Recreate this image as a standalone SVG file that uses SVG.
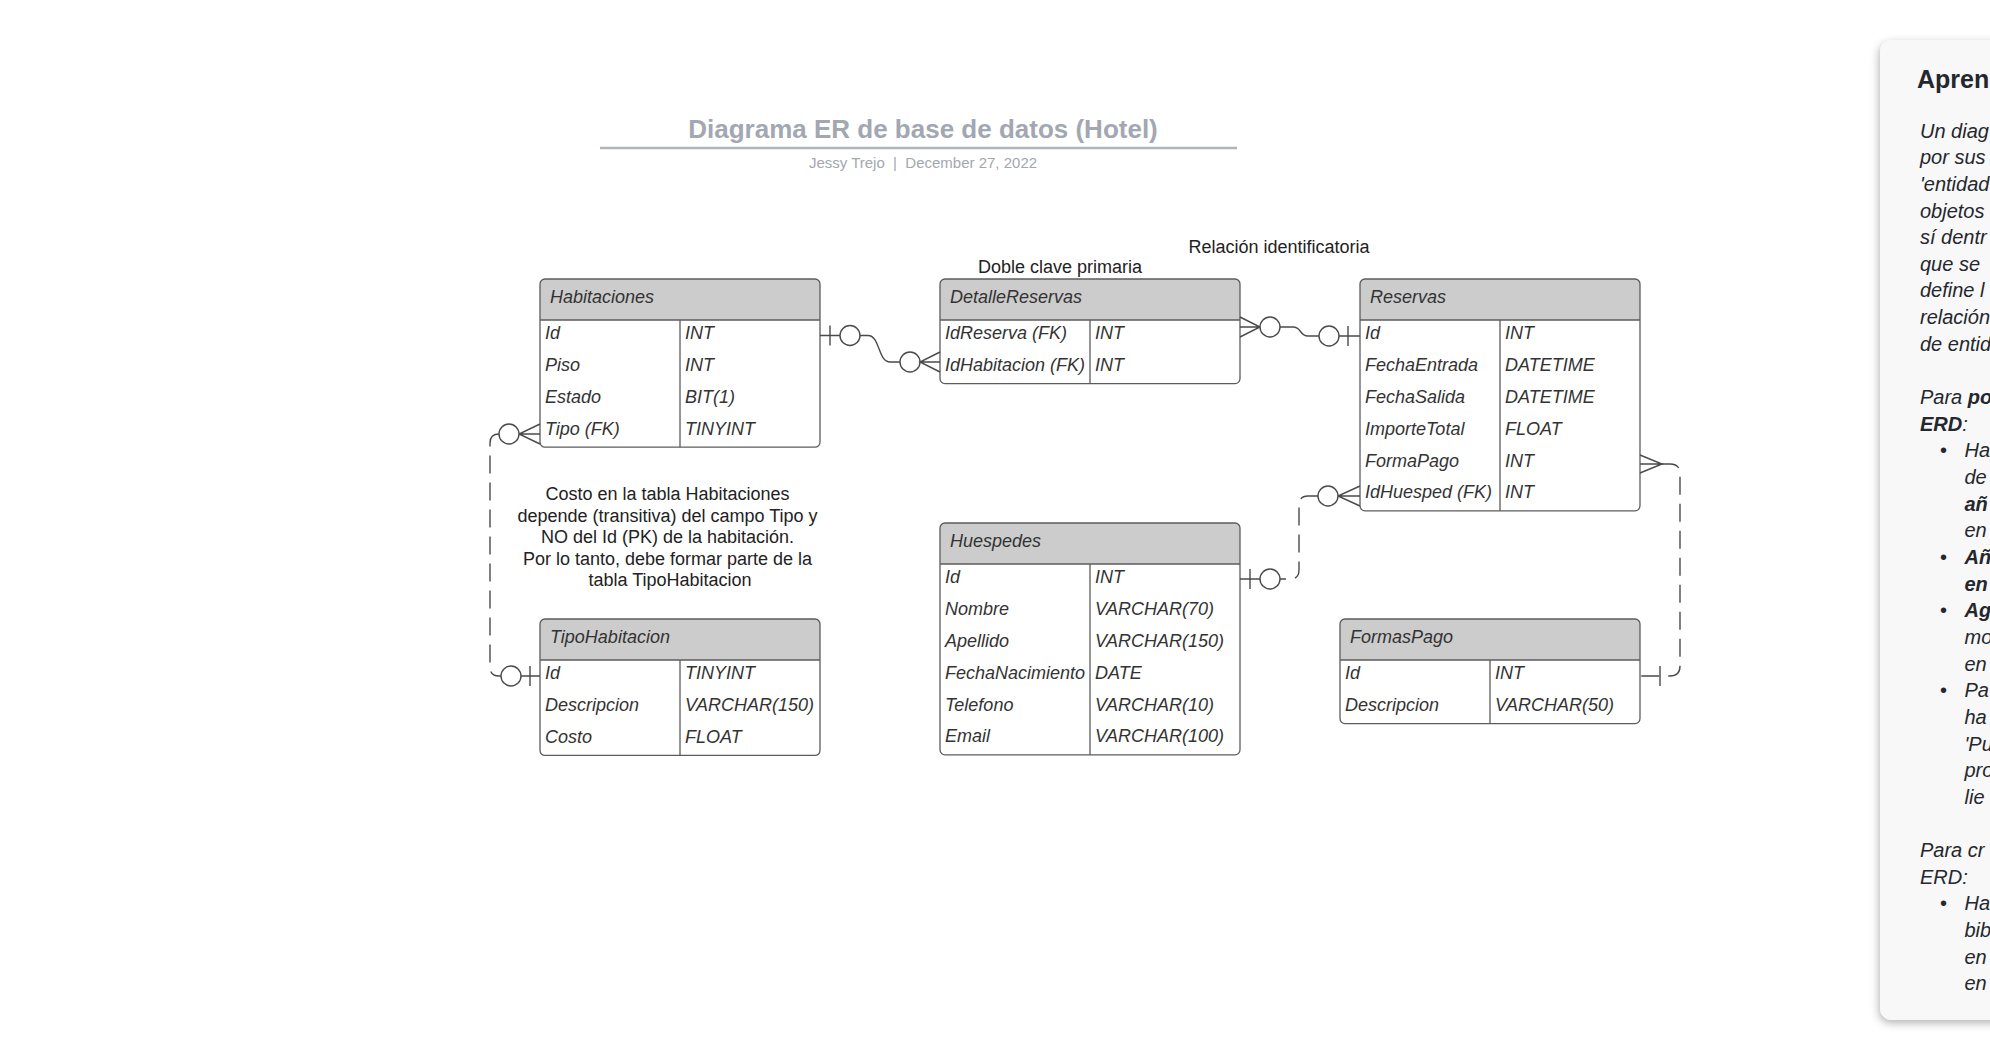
<svg xmlns="http://www.w3.org/2000/svg" width="1990" height="1060" viewBox="0 0 1990 1060">
<style>
text{font-family:"Liberation Sans",Arial,sans-serif}
.hd{font-size:18px;font-style:italic;fill:#333}
.rw{font-size:18px;font-style:italic;fill:#333}
.bg{fill:#fff}
.hf{fill:#ccc}
.ol{fill:none;stroke:#5c5c5c;stroke-width:1.3}
.ln{stroke:#5c5c5c;stroke-width:1.3;fill:none}
.c{fill:none;stroke:#4a4a4a;stroke-width:1.4}
.d{stroke-dasharray:18 9}
.o{fill:#fff;stroke:#4a4a4a;stroke-width:1.4}
.note{font-size:18px;fill:#222}
.pb{font-size:20px;font-style:italic;fill:#24272d}
.b{font-weight:bold}
</style>
<defs>
<filter id="sh" x="-20%" y="-5%" width="140%" height="110%">
<feDropShadow dx="-1" dy="3" stdDeviation="4" flood-color="#000" flood-opacity="0.3"/>
</filter>
</defs>
<rect width="1990" height="1060" fill="#fff"/>

<g id="title">
<text x="923" y="138" text-anchor="middle" font-size="26" font-weight="bold" fill="#a2a7b1">Diagrama ER de base de datos (Hotel)</text>
<line x1="600" y1="148" x2="1237" y2="148" stroke="#b0b4bd" stroke-width="2.5"/>
<text x="923" y="167.5" text-anchor="middle" font-size="15" fill="#a3a7af" style="white-space:pre">Jessy Trejo  |  December 27, 2022</text>
</g>

<g id="habitaciones">
<rect class="bg" x="540" y="279" width="280" height="168.2" rx="5"/>
<path class="hf" d="M540,320V284Q540,279 545,279H815Q820,279 820,284V320Z"/>
<path class="ln" d="M540,320H820M680,320V447.2"/>
<rect class="ol" x="540" y="279" width="280" height="168.2" rx="5"/>
<text class="hd" x="550" y="303">Habitaciones</text>
<text class="rw" x="545" y="339.4">Id</text><text class="rw" x="685" y="339.4">INT</text>
<text class="rw" x="545" y="371.2">Piso</text><text class="rw" x="685" y="371.2">INT</text>
<text class="rw" x="545" y="403">Estado</text><text class="rw" x="685" y="403">BIT(1)</text>
<text class="rw" x="545" y="434.8">Tipo (FK)</text><text class="rw" x="685" y="434.8">TINYINT</text>
</g>

<g id="detallereservas">
<rect class="bg" x="940" y="279" width="300" height="104.6" rx="5"/>
<path class="hf" d="M940,320V284Q940,279 945,279H1235Q1240,279 1240,284V320Z"/>
<path class="ln" d="M940,320H1240M1090,320V383.6"/>
<rect class="ol" x="940" y="279" width="300" height="104.6" rx="5"/>
<text class="hd" x="950" y="303">DetalleReservas</text>
<text class="rw" x="945" y="339.4">IdReserva (FK)</text><text class="rw" x="1095" y="339.4">INT</text>
<text class="rw" x="945" y="371.2">IdHabitacion (FK)</text><text class="rw" x="1095" y="371.2">INT</text>
</g>

<g id="reservas">
<rect class="bg" x="1360" y="279" width="280" height="231.8" rx="5"/>
<path class="hf" d="M1360,320V284Q1360,279 1365,279H1635Q1640,279 1640,284V320Z"/>
<path class="ln" d="M1360,320H1640M1500,320V510.8"/>
<rect class="ol" x="1360" y="279" width="280" height="231.8" rx="5"/>
<text class="hd" x="1370" y="303">Reservas</text>
<text class="rw" x="1365" y="339.4">Id</text><text class="rw" x="1505" y="339.4">INT</text>
<text class="rw" x="1365" y="371.2">FechaEntrada</text><text class="rw" x="1505" y="371.2">DATETIME</text>
<text class="rw" x="1365" y="403">FechaSalida</text><text class="rw" x="1505" y="403">DATETIME</text>
<text class="rw" x="1365" y="434.8">ImporteTotal</text><text class="rw" x="1505" y="434.8">FLOAT</text>
<text class="rw" x="1365" y="466.6">FormaPago</text><text class="rw" x="1505" y="466.6">INT</text>
<text class="rw" x="1365" y="498.4">IdHuesped (FK)</text><text class="rw" x="1505" y="498.4">INT</text>
</g>

<g id="huespedes">
<rect class="bg" x="940" y="523" width="300" height="231.8" rx="5"/>
<path class="hf" d="M940,564V528Q940,523 945,523H1235Q1240,523 1240,528V564Z"/>
<path class="ln" d="M940,564H1240M1090,564V754.8"/>
<rect class="ol" x="940" y="523" width="300" height="231.8" rx="5"/>
<text class="hd" x="950" y="547">Huespedes</text>
<text class="rw" x="945" y="583.4">Id</text><text class="rw" x="1095" y="583.4">INT</text>
<text class="rw" x="945" y="615.2">Nombre</text><text class="rw" x="1095" y="615.2">VARCHAR(70)</text>
<text class="rw" x="945" y="647">Apellido</text><text class="rw" x="1095" y="647">VARCHAR(150)</text>
<text class="rw" x="945" y="678.8">FechaNacimiento</text><text class="rw" x="1095" y="678.8">DATE</text>
<text class="rw" x="945" y="710.6">Telefono</text><text class="rw" x="1095" y="710.6">VARCHAR(10)</text>
<text class="rw" x="945" y="742.4">Email</text><text class="rw" x="1095" y="742.4">VARCHAR(100)</text>
</g>

<g id="tipohabitacion">
<rect class="bg" x="540" y="619" width="280" height="136.4" rx="5"/>
<path class="hf" d="M540,660V624Q540,619 545,619H815Q820,619 820,624V660Z"/>
<path class="ln" d="M540,660H820M680,660V755.4"/>
<rect class="ol" x="540" y="619" width="280" height="136.4" rx="5"/>
<text class="hd" x="550" y="643">TipoHabitacion</text>
<text class="rw" x="545" y="679.4">Id</text><text class="rw" x="685" y="679.4">TINYINT</text>
<text class="rw" x="545" y="711.2">Descripcion</text><text class="rw" x="685" y="711.2">VARCHAR(150)</text>
<text class="rw" x="545" y="743">Costo</text><text class="rw" x="685" y="743">FLOAT</text>
</g>

<g id="formaspago">
<rect class="bg" x="1340" y="619" width="300" height="104.6" rx="5"/>
<path class="hf" d="M1340,660V624Q1340,619 1345,619H1635Q1640,619 1640,624V660Z"/>
<path class="ln" d="M1340,660H1640M1490,660V723.6"/>
<rect class="ol" x="1340" y="619" width="300" height="104.6" rx="5"/>
<text class="hd" x="1350" y="643">FormasPago</text>
<text class="rw" x="1345" y="679.4">Id</text><text class="rw" x="1495" y="679.4">INT</text>
<text class="rw" x="1345" y="711.2">Descripcion</text><text class="rw" x="1495" y="711.2">VARCHAR(50)</text>
</g>

<g id="connectors">
<!-- Habitaciones.Id -> DetalleReservas.IdHabitacion -->
<path class="c" d="M820,335.5H840M830,325.5V345.5"/>
<circle class="o" cx="850" cy="335.5" r="10"/>
<path class="c" d="M860,335.5H868C880,335.5 878,362 890,362H900"/>
<circle class="o" cx="910" cy="362" r="10"/>
<path class="c" d="M940,352L920,362L940,372M920,362H940"/>
<!-- DetalleReservas -> Reservas.Id -->
<path class="c" d="M1240,317L1260,327L1240,337M1260,327H1240"/>
<circle class="o" cx="1270" cy="327" r="10"/>
<path class="c" d="M1280,327H1293C1302,327 1299,336 1308,336H1319"/>
<circle class="o" cx="1329" cy="336" r="10"/>
<path class="c" d="M1339,336H1360M1348,326V346"/>
<!-- Habitaciones.Tipo -> TipoHabitacion.Id -->
<path class="c" d="M540,424L519,434L540,444M519,434H540"/>
<circle class="o" cx="509" cy="434" r="10"/>
<path class="c d" d="M499,434Q490,434 490,443V667Q490,676 499,676H501"/>
<circle class="o" cx="511" cy="676" r="10"/>
<path class="c" d="M521,676H540M530,666V686"/>
<!-- Reservas.IdHuesped -> Huespedes.Id -->
<path class="c" d="M1360,486L1338,496L1360,506M1338,496H1360"/>
<circle class="o" cx="1328" cy="496" r="10"/>
<path class="c d" d="M1318,496H1308Q1299,496 1299,505V570Q1299,579 1290,579H1280"/>
<circle class="o" cx="1270" cy="579" r="10"/>
<path class="c" d="M1260,579H1240M1250,569V589"/>
<!-- Reservas.FormaPago -> FormasPago.Id -->
<path class="c" d="M1640,455L1662,464L1640,473M1662,464H1640"/>
<path class="c d" d="M1662,464H1670Q1680,464 1680,474V666Q1680,676 1670,676H1640"/>
<path class="c" d="M1660,666V686"/>
</g>

<g id="annotations">
<text class="note" x="1060" y="273" text-anchor="middle">Doble clave primaria</text>
<text class="note" x="1279" y="253" text-anchor="middle">Relación identificatoria</text>
<text class="note" text-anchor="middle">
<tspan x="670" y="500">Costo en la tabla Habitaciones</tspan>
<tspan x="670" y="521.6">depende (transitiva) del campo Tipo y</tspan>
<tspan x="670" y="543.2">NO del Id (PK) de la habitación.</tspan>
<tspan x="670" y="564.8">Por lo tanto, debe formar parte de la</tspan>
<tspan x="670" y="586.4">tabla TipoHabitacion</tspan>
</text>
</g>

<g id="learn-panel">
<rect x="1880" y="40" width="140" height="980" rx="12" fill="#f8f8f8" filter="url(#sh)"/>
<text x="1917" y="88" font-size="25" font-weight="bold" fill="#24272d">Apren</text>
<text class="pb">
<tspan x="1920" y="137.5">Un diag</tspan>
<tspan x="1920" y="164.2">por sus</tspan>
<tspan x="1920" y="190.8">'entidad</tspan>
<tspan x="1920" y="217.5">objetos</tspan>
<tspan x="1920" y="244.1">sí dentr</tspan>
<tspan x="1920" y="270.8">que se</tspan>
<tspan x="1920" y="297.4">define l</tspan>
<tspan x="1920" y="324.1">relación</tspan>
<tspan x="1920" y="350.7">de entid</tspan>
<tspan x="1920" y="404">Para <tspan class="b">po</tspan></tspan>
<tspan x="1920" y="430.7"><tspan class="b">ERD</tspan>:</tspan>
<tspan x="1964.5" y="457.3">Ha</tspan>
<tspan x="1964.5" y="484">de</tspan>
<tspan x="1964.5" y="510.6" class="b">añ</tspan>
<tspan x="1964.5" y="537.3">en</tspan>
<tspan x="1964.5" y="563.9" class="b">Añ</tspan>
<tspan x="1964.5" y="590.6" class="b">en</tspan>
<tspan x="1964.5" y="617.2" class="b">Ag</tspan>
<tspan x="1964.5" y="643.9">mo</tspan>
<tspan x="1964.5" y="670.5">en</tspan>
<tspan x="1964.5" y="697.2">Pa</tspan>
<tspan x="1964.5" y="723.8">ha</tspan>
<tspan x="1964.5" y="750.5">'Pu</tspan>
<tspan x="1964.5" y="777.1">pro</tspan>
<tspan x="1964.5" y="803.8">lie</tspan>
<tspan x="1920" y="857.1">Para cr</tspan>
<tspan x="1920" y="883.7">ERD:</tspan>
<tspan x="1964.5" y="910.4">Ha</tspan>
<tspan x="1964.5" y="937">bib</tspan>
<tspan x="1964.5" y="963.7">en</tspan>
<tspan x="1964.5" y="990.3">en</tspan>
</text>
<text font-size="20" fill="#24272d">
<tspan x="1940" y="457.3">•</tspan>
<tspan x="1940" y="563.9">•</tspan>
<tspan x="1940" y="617.2">•</tspan>
<tspan x="1940" y="697.2">•</tspan>
<tspan x="1940" y="910.4">•</tspan>
</text>
</g>
</svg>
